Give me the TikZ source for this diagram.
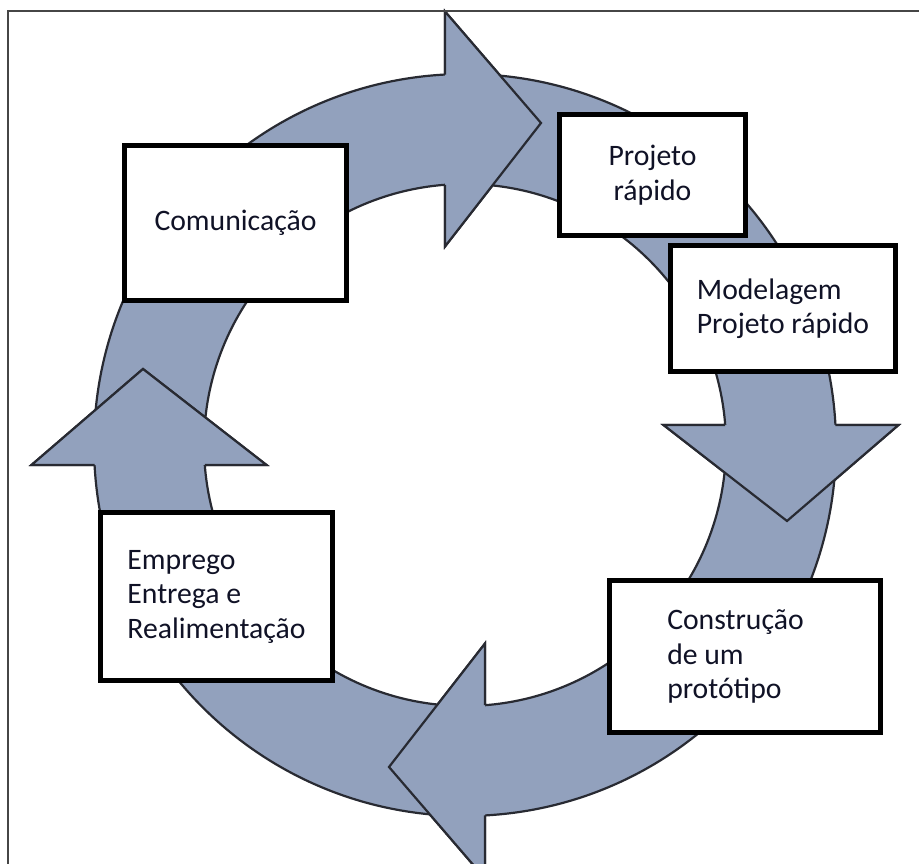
\documentclass[tikz,border=0pt]{standalone}
\usepackage{fontspec}
\setmainfont{Carlito}
\definecolor{ringfill}{RGB}{146,161,189}
\definecolor{ringline}{RGB}{40,42,50}
\definecolor{txtcol}{RGB}{16,18,38}
\definecolor{framecol}{RGB}{70,70,70}
\begin{document}
\begin{tikzpicture}[x=1pt,y=1pt,
  ringbody/.style={fill=ringfill,draw=ringline,line width=2.2pt},
  ringedge/.style={draw=ringline,line width=2.2pt},
  stagebox/.style={draw=black,fill=white,line width=5pt,inner sep=0pt},
  stagetext/.style={text=txtcol,inner sep=0pt,font=\fontsize{29.7pt}{34.5pt}\selectfont}]
\useasboundingbox (0,0) rectangle (919,864);
\fill[white] (0,0) rectangle (919,864);
% ring of four curved arrows
\foreach \r in {0,-90,180,90}{
  \begin{scope}[shift={(465,419)},rotate=\r]
    \path[ringbody] (178:371) arc[start angle=178,end angle=93.09,radius=371]
      -- (-20,433.5) -- (76,322) -- (-20,198.5) -- (94.39:261)
      arc[start angle=94.39,end angle=178,radius=261] -- cycle;
  \end{scope}
}
% heads on top of the following tails
\foreach \r in {0,-90,180,90}{
  \begin{scope}[shift={(465,419)},rotate=\r]
    \fill[ringfill] (-20,433.5) -- (76,322) -- (-20,198.5) -- cycle;
    \path[ringedge] (93.09:371) -- (-20,433.5) -- (76,322) -- (-20,198.5) -- (94.39:261);
  \end{scope}
}
% boxes
\node[stagebox,minimum width=222pt,minimum height=155pt] (com) at (235.5,641) {};
\node[stagetext] (comt) at (com.center) {Comunicação};
\node[stagebox,minimum width=186pt,minimum height=121pt] (proj) at (652.5,689) {};
\node[stagetext,align=center] (projt) at (proj.center) {Projeto\\rápido};
\node[stagebox,minimum width=225pt,minimum height=126pt] (mod) at (783,555.5) {};
\node[stagetext,align=left] (modt) at (mod.center) {Modelagem\\Projeto rápido};
\node[stagebox,minimum width=271pt,minimum height=152pt] (cons) at (745,207.5) {};
\node[stagetext,align=left] (const) at ([xshift=-9.5pt]cons.center) {Construção\\de um\\protótipo};
\node[stagebox,minimum width=232pt,minimum height=168pt] (emp) at (216.5,267.5) {};
\node[stagetext,align=left] (empt) at (emp.center) {Emprego\\Entrega e\\Realimentação};
% frame (top and left edges)
\draw[framecol,line width=2pt] (919,853) -- (8,853) -- (8,0);
\end{tikzpicture}
\end{document}
